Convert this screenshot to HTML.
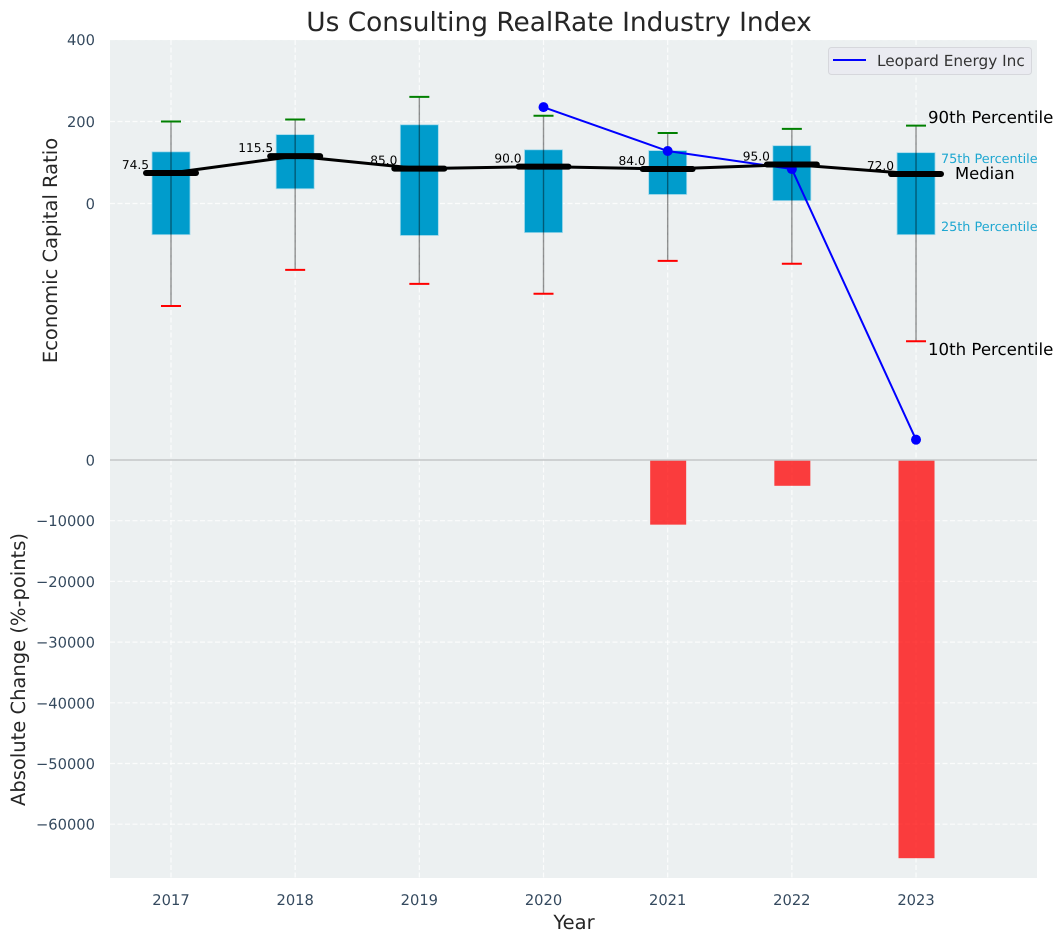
<!DOCTYPE html>
<html lang="en">
<head>
<meta charset="utf-8">
<title>Us Consulting RealRate Industry Index</title>
<style>
html,body{margin:0;padding:0;background:#fff;width:1063px;height:942px;overflow:hidden}
svg{display:block;font-family:"DejaVu Sans","Liberation Sans",sans-serif;text-rendering:geometricPrecision}
.tick{font-size:14.7px;fill:#34495e}
.axis-label{font-size:19.5px;fill:#262626}
</style>
</head>
<body>
<svg id="chart" width="1063" height="942" viewBox="0 0 1063 942" xmlns="http://www.w3.org/2000/svg">
  <rect x="110" y="40" width="927" height="838" fill="#ecf0f1"/>
  <g id="grid"></g>
  <g id="bars"></g>
  <line x1="110" x2="1037" y1="460" y2="460" stroke="#c4c6c8" stroke-width="1.5"/>
  <g id="boxes"></g>
  <g id="leopard"></g>
  <g id="medians"></g>
  <g id="ticks"></g>

  <text x="559" y="31" text-anchor="middle" font-size="26.4px" fill="#262626">Us Consulting RealRate Industry Index</text>
  <text class="axis-label" x="574" y="929" text-anchor="middle">Year</text>
  <text class="axis-label" transform="translate(57 250.5) rotate(-90)" text-anchor="middle">Economic Capital Ratio</text>
  <text class="axis-label" transform="translate(25 669.5) rotate(-90)" text-anchor="middle">Absolute Change (%-points)</text>

  <text x="928" y="123" font-size="16.6px" fill="#000">90th Percentile</text>
  <text x="941" y="163" font-size="12.8px" fill="#1ea7d1">75th Percentile</text>
  <text x="955" y="179" font-size="16.4px" fill="#000">Median</text>
  <text x="941" y="231" font-size="12.8px" fill="#1ea7d1">25th Percentile</text>
  <text x="928" y="355" font-size="16.6px" fill="#000">10th Percentile</text>

  <g>
    <rect x="828.5" y="47.5" width="203" height="27" rx="3" fill="#eaebf1" stroke="#d6d7dc" stroke-width="1"/>
    <line x1="833" x2="866" y1="60" y2="60" stroke="#0000ff" stroke-width="2"/>
    <text x="877" y="66" font-size="15.3px" fill="#333">Leopard Energy Inc</text>
  </g>
</svg>
<script>
const years = ["2017", "2018", "2019", "2020", "2021", "2022", "2023"];
const p90 = [200, 205, 260, 214, 172, 182, 190];
const p75 = [126, 168, 192, 131, 129, 141, 124];
const medians = [74.5, 115.5, 85.0, 90.0, 84.0, 95.0, 72.0];
const p25 = [-76, 36, -78, -71, 22, 7, -76];
const p10 = [-250, -162, -196, -220, -140, -147, -336];
const leopard = [null, null, null, 235, 128, 84, -576];
const changes = [0, 0, 0, 0, -10650, -4250, -65600];
const upperTicks = [400, 200, 0];
const lowerTicks = [0, -10000, -20000, -30000, -40000, -50000, -60000];

const NS = 'http://www.w3.org/2000/svg';
const xOf = i => 171 + i * 124.17;
const yUpper = v => 203.5 - v * 0.41;
const yLower = v => 460 - v * 0.00607;

function make(parent, tag, attrs, text) {
  const el = document.createElementNS(NS, tag);
  for (const k in attrs) el.setAttribute(k, attrs[k]);
  if (text !== undefined) el.textContent = text;
  document.getElementById(parent).appendChild(el);
  return el;
}
const gridStyle = {stroke: '#ffffff', 'stroke-width': 1.2, 'stroke-dasharray': '5 2.5', 'stroke-opacity': 0.8};
const fmt = v => String(v).replace('-', '\u2212');

/* grid and tick labels */
years.forEach((y, i) => {
  const gx = make('grid', 'line', Object.assign({x1: xOf(i), x2: xOf(i), y1: 40, y2: 878}, gridStyle));
  
  
  const t = make('ticks', 'text', {class: 'tick', x: xOf(i), y: 905, 'text-anchor': 'middle'}, y);
  
  
});
upperTicks.forEach(v => {
  const g = make('grid', 'line', Object.assign({x1: 110, x2: 1037, y1: yUpper(v), y2: yUpper(v)}, gridStyle));
  
  
  const t = make('ticks', 'text', {class: 'tick', x: 95, y: yUpper(v) + 5.5, 'text-anchor': 'end'}, fmt(v));
  
  
});
lowerTicks.forEach(v => {
  const g = make('grid', 'line', Object.assign({x1: 110, x2: 1037, y1: yLower(v), y2: yLower(v)}, gridStyle));
  
  
  const t = make('ticks', 'text', {class: 'tick', x: 95, y: yLower(v) + 5.5, 'text-anchor': 'end'}, fmt(v));
  
  
});

/* absolute change bars */
changes.forEach((v, i) => {
  if (v === 0) return;
  const b = make('bars', 'rect', {x: xOf(i) - 17.5, y: yLower(0), width: 36, height: yLower(v) - yLower(0), fill: '#ff0000', 'fill-opacity': 0.75});
  
  
});

/* boxes, whiskers, caps */
years.forEach((y, i) => {
  const x = xOf(i);
  const r = make('boxes', 'rect', {x: x - 19, y: yUpper(p75[i]), width: 38, height: yUpper(p25[i]) - yUpper(p75[i]), fill: '#009ccc', stroke: '#9fd8ea', 'stroke-width': 0.8});
  
  
  const w = make('boxes', 'line', {x1: x, x2: x, y1: yUpper(p90[i]), y2: yUpper(p10[i]), stroke: '#000', 'stroke-opacity': 0.42, 'stroke-width': 1.4});
  
  
  const c1 = make('boxes', 'line', {x1: x - 10, x2: x + 10, y1: yUpper(p90[i]), y2: yUpper(p90[i]), stroke: '#008000', 'stroke-width': 2});
  
  
  const c2 = make('boxes', 'line', {x1: x - 10, x2: x + 10, y1: yUpper(p10[i]), y2: yUpper(p10[i]), stroke: '#ff0000', 'stroke-width': 2});
  
  
});

/* leopard series */
const lp = leopard.map((v, i) => v === null ? null : xOf(i) + ',' + yUpper(v)).filter(Boolean).join(' ');
const ll = make('leopard', 'polyline', {points: lp, fill: 'none', stroke: '#0000ff', 'stroke-width': 2});


leopard.forEach((v, i) => {
  if (v === null) return;
  const d = make('leopard', 'circle', {cx: xOf(i), cy: yUpper(v), r: 5, fill: '#0000ff'});
  
  
});

/* median series */
const mp = medians.map((v, i) => xOf(i) + ',' + yUpper(v)).join(' ');
const ml = make('medians', 'polyline', {points: mp, fill: 'none', stroke: '#000', 'stroke-width': 3});


medians.forEach((v, i) => {
  const x = xOf(i), y = yUpper(v);
  const s = make('medians', 'line', {x1: x - 25, x2: x + 25, y1: y, y2: y, stroke: '#000', 'stroke-width': 6, 'stroke-linecap': 'round'});
  
  
  const t = make('medians', 'text', {x: x - 22, y: y - 4.2, 'text-anchor': 'end', 'font-size': '12.2px', fill: '#000'}, v.toFixed(1));
  
  
});
</script>
</body>
</html>
